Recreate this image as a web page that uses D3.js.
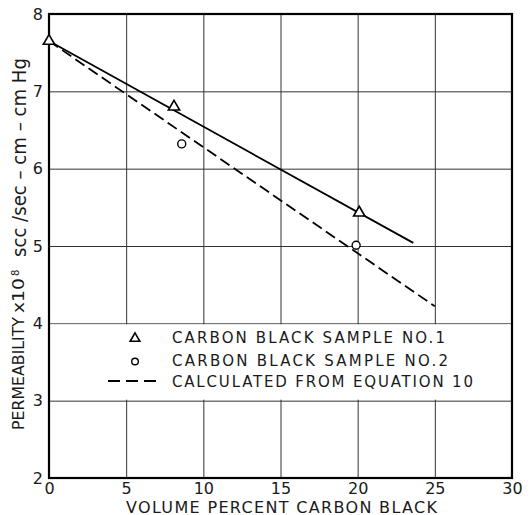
<!DOCTYPE html>
<html>
<head>
<meta charset="utf-8">
<script src="https://d3js.org/d3.v7.min.js"></script>
<style>
  body { margin: 0; background: #fff; }
  text { font-family: "DejaVu Sans", sans-serif; fill: #1a1a1a; }
</style>
</head>
<body>
<svg width="530" height="515"></svg>
<script>
  // values
  const xTicks = [0, 5, 10, 15, 20, 25, 30];
  const yTicks = [2, 3, 4, 5, 6, 7, 8];

  const sample1X = [0, 8.1, 20.1];      // triangles
  const sample1Y = [7.65, 6.8, 5.43];
  const sample2X = [8.6, 19.9];         // circles
  const sample2Y = [6.32, 5.01];
  const fitX = [0, 23.6];               // solid line
  const fitY = [7.65, 5.04];
  const eqX = [0, 25];                  // dashed line, equation 10
  const eqY = [7.65, 4.22];

  const legendLabels = ['CARBON BLACK SAMPLE NO.1', 'CARBON BLACK SAMPLE NO.2', 'CALCULATED FROM EQUATION 10'];

  const svg = d3.select('svg');
  const width = +svg.attr('width');
  const height = +svg.attr('height');
  const margin = {top: 14, left: 49, bottom: 37, right: 18};
  const innerWidth = width - margin.left - margin.right;
  const innerHeight = height - margin.top - margin.bottom;

  const xScale = d3.scaleLinear().domain([0, 30]).range([0, innerWidth]);
  const yScale = d3.scaleLinear().domain([2, 8]).range([innerHeight, 0]);

  const g = svg.append('g')
    .attr('transform', `translate(${margin.left},${margin.top})`);

  // grid + tick labels
  const xAxis = d3.axisBottom(xScale).tickValues(xTicks).tickFormat(d3.format('d'))
    .tickSize(-innerHeight).tickPadding(5);
  const yAxis = d3.axisLeft(yScale).tickValues(yTicks).tickFormat(d3.format('d'))
    .tickSize(-innerWidth).tickPadding(6);

  const xg = g.append('g').attr('transform', `translate(0,${innerHeight})`).call(xAxis);
  const yg = g.append('g').call(yAxis);
  [xg, yg].forEach(a => {
    a.select('.domain').remove();
    a.selectAll('line').attr('stroke', '#333').attr('stroke-width', 1);
    a.selectAll('text').attr('font-size', 16).attr('font-family', '"DejaVu Sans", sans-serif').attr('fill', '#1a1a1a');
  });

  // legend box hides the vertical grid between 3 and 4
  g.append('rect')
    .attr('x', 1).attr('width', innerWidth - 2)
    .attr('y', yScale(4) + 1).attr('height', yScale(3) - yScale(4) - 2)
    .attr('fill', '#fff');

  // frame
  g.append('rect')
    .attr('width', innerWidth).attr('height', innerHeight)
    .attr('fill', 'none').attr('stroke', '#000').attr('stroke-width', 2.2);

  const line = d3.line().x(d => xScale(d[0])).y(d => yScale(d[1]));

  g.append('path')
    .datum(d3.zip(fitX, fitY))
    .attr('d', line)
    .attr('fill', 'none').attr('stroke', '#000').attr('stroke-width', 1.8);

  g.append('path')
    .datum(d3.zip(eqX, eqY))
    .attr('d', line)
    .attr('fill', 'none').attr('stroke', '#000').attr('stroke-width', 1.8)
    .attr('stroke-dasharray', '11,5');

  const tri = d3.symbol().type(d3.symbolTriangle).size(55);

  g.selectAll('.tri').data(d3.zip(sample1X, sample1Y))
    .enter().append('path')
    .attr('class', 'tri')
    .attr('transform', d => `translate(${xScale(d[0])},${yScale(d[1])})`)
    .attr('d', tri)
    .attr('fill', '#fff').attr('stroke', '#000').attr('stroke-width', 1.6);

  g.selectAll('.circ').data(d3.zip(sample2X, sample2Y))
    .enter().append('circle')
    .attr('class', 'circ')
    .attr('cx', d => xScale(d[0])).attr('cy', d => yScale(d[1]))
    .attr('r', 4)
    .attr('fill', '#fff').attr('stroke', '#000').attr('stroke-width', 1.4);

  // legend
  const legendY = [343, 366, 387];
  const legendW = [273, 276, 301];
  legendLabels.forEach((t, i) => {
    svg.append('text')
      .attr('x', 172).attr('y', legendY[i])
      .attr('font-size', 15)
      .attr('textLength', legendW[i]).attr('lengthAdjust', 'spacing')
      .text(t);
  });
  svg.append('path')
    .attr('transform', 'translate(135,338.5)')
    .attr('d', d3.symbol().type(d3.symbolTriangle).size(40))
    .attr('fill', '#fff').attr('stroke', '#000').attr('stroke-width', 1.6);
  svg.append('circle')
    .attr('cx', 135).attr('cy', 361.5).attr('r', 3.3)
    .attr('fill', '#fff').attr('stroke', '#000').attr('stroke-width', 1.4);
  svg.append('line')
    .attr('x1', 108).attr('x2', 157).attr('y1', 381).attr('y2', 381)
    .attr('stroke', '#000').attr('stroke-width', 2)
    .attr('stroke-dasharray', '12,6');

  // axis titles
  svg.append('text')
    .attr('x', 126).attr('y', 513)
    .attr('font-size', 16)
    .attr('textLength', 311).attr('lengthAdjust', 'spacing')
    .text('VOLUME PERCENT CARBON BLACK');

  svg.append('text')
    .attr('transform', 'translate(24,430) rotate(-90)')
    .attr('font-size', 15)
    .attr('textLength', 113).attr('lengthAdjust', 'spacingAndGlyphs')
    .text('PERMEABILITY');
  svg.append('text')
    .attr('transform', 'translate(24,313) rotate(-90)')
    .attr('font-size', 15)
    .attr('textLength', 35).attr('lengthAdjust', 'spacingAndGlyphs')
    .text('x10');
  svg.append('text')
    .attr('transform', 'translate(19,276) rotate(-90)')
    .attr('font-size', 10)
    .text('8');
  svg.append('text')
    .attr('transform', 'translate(26,257) rotate(-90)')
    .attr('font-size', 20)
    .attr('textLength', 199).attr('lengthAdjust', 'spacingAndGlyphs')
    .text('scc /sec \u2013 cm \u2013 cm Hg');
</script>
</body>
</html>
